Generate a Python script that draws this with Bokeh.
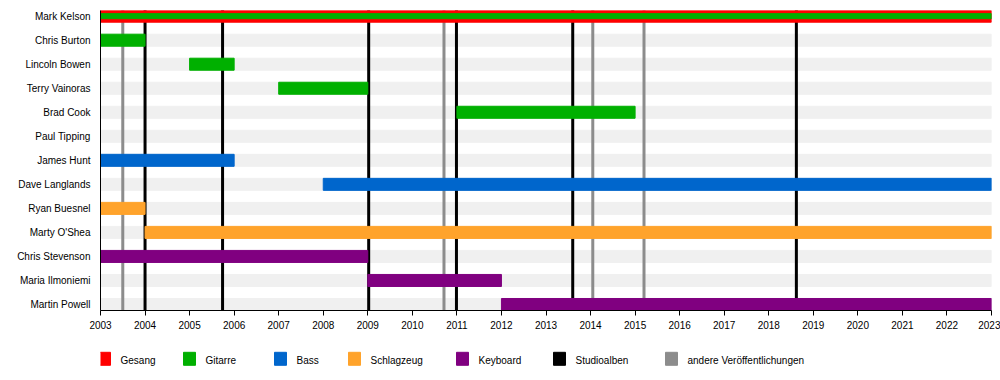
from bokeh.plotting import figure
from bokeh.models import Range1d, FixedTicker, ColumnDataSource
from bokeh.layouts import column
from bokeh.embed import file_html
from bokeh.resources import INLINE
from bokeh.core.properties import value

# ---------------- data ----------------
members = ["Mark Kelson", "Chris Burton", "Lincoln Bowen", "Terry Vainoras",
           "Brad Cook", "Paul Tipping", "James Hunt", "Dave Langlands",
           "Ryan Buesnel", "Marty O'Shea", "Chris Stevenson",
           "Maria Ilmoniemi", "Martin Powell"]

bar_member = ["Chris Burton", "Lincoln Bowen", "Terry Vainoras", "Brad Cook",
              "James Hunt", "Dave Langlands", "Ryan Buesnel", "Marty O'Shea",
              "Chris Stevenson", "Maria Ilmoniemi", "Martin Powell"]
bar_start = [2003, 2005, 2007, 2011, 2003, 2008, 2003, 2004, 2003, 2009, 2012]
bar_end = [2004, 2006, 2009, 2015, 2006, 2023, 2004, 2023, 2009, 2012, 2023]
bar_role = ["Gitarre", "Gitarre", "Gitarre", "Gitarre", "Bass", "Bass",
            "Schlagzeug", "Schlagzeug", "Keyboard", "Keyboard", "Keyboard"]

lead_member = "Mark Kelson"
lead_start = 2003
lead_end = 2023
lead_roles = ["Gesang", "Gitarre"]

studio_albums = [2004.0, 2005.74, 2009.02, 2010.99, 2013.60, 2018.62]
other_releases = [2003.5, 2010.71, 2014.05, 2015.20]

years = list(range(2003, 2024))

roles = ["Gesang", "Gitarre", "Bass", "Schlagzeug", "Keyboard",
         "Studioalben", "andere Veröffentlichungen"]
role_colors = ["#ff0000", "#00b000", "#0066cc", "#ffa32b", "#800080",
               "#000000", "#8c8c8c"]
color_of = dict(zip(roles, role_colors))

FONT = "Liberation Sans"
W = 1000
LEFT = 100
RIGHT = 9

# ---------------- main chart ----------------
idx = {m: i for i, m in enumerate(members)}

p = figure(width=W, height=340,
           x_range=Range1d(years[0], years[-1]),
           y_range=Range1d(12.25, -0.236),
           output_backend="svg", toolbar_location=None,
           min_border_left=LEFT, min_border_right=RIGHT,
           min_border_top=10, min_border_bottom=30)
p.outline_line_color = None
p.xgrid.visible = False
p.ygrid.visible = False
p.background_fill_color = "white"
p.border_fill_color = "white"

# row strips
p.hbar(y=list(range(len(members))), left=years[0], right=years[-1],
       height=0.5, color="#f0f0f0")

# release lines
p.segment(x0=other_releases, y0=-1, x1=other_releases, y1=13,
          line_color=color_of["andere Veröffentlichungen"], line_width=3)
p.segment(x0=studio_albums, y0=-1, x1=studio_albums, y1=13,
          line_color=color_of["Studioalben"], line_width=3)

# member bars
src = ColumnDataSource(dict(
    y=[idx[m] for m in bar_member],
    left=bar_start, right=bar_end,
    color=[color_of[r] for r in bar_role]))
p.hbar(y="y", left="left", right="right", height=0.5, color="color", source=src)

# lead singer (vocals + guitar)
p.hbar(y=[idx[lead_member]], left=lead_start, right=lead_end, height=0.5,
       color=color_of[lead_roles[0]])
p.hbar(y=[idx[lead_member]], left=lead_start, right=lead_end, height=0.21,
       color=color_of[lead_roles[1]])

# axes
p.xaxis.ticker = FixedTicker(ticks=years)
p.xaxis.minor_tick_line_color = None
p.xaxis.major_tick_out = 5
p.xaxis.major_tick_in = 0
p.xaxis.major_label_standoff = 5
p.xaxis.major_label_text_font = FONT
p.xaxis.major_label_text_font_size = "10px"
p.xaxis.major_label_text_color = "black"
p.xaxis.axis_line_color = "black"
p.xaxis.major_tick_line_color = "black"

p.yaxis.ticker = FixedTicker(ticks=list(range(len(members))))
p.yaxis.major_label_overrides = {i: m for i, m in enumerate(members)}
p.yaxis.minor_tick_line_color = None
p.yaxis.major_tick_line_color = None
p.yaxis.major_tick_out = 0
p.yaxis.major_tick_in = 0
p.yaxis.major_label_standoff = 10
p.yaxis.major_label_text_font = FONT
p.yaxis.major_label_text_font_size = "10px"
p.yaxis.major_label_text_color = "black"
p.yaxis.axis_line_color = "black"

# ---------------- legend strip (page-pixel coordinates) ----------------
LH = 38
lg = figure(width=W, height=LH, x_range=Range1d(LEFT, W - RIGHT),
            y_range=Range1d(LH, 0),
            output_backend="svg", toolbar_location=None,
            min_border_left=LEFT, min_border_right=RIGHT,
            min_border_top=0, min_border_bottom=0,
            x_axis_type=None, y_axis_type=None)
lg.outline_line_color = None
lg.xgrid.visible = False
lg.ygrid.visible = False

swatch_left = [98, 183, 274, 348, 456, 553, 665]
lg.rect(x=[s + 6 for s in swatch_left], y=18.3, width=12, height=13,
        color=role_colors)
lg.text(x=[s + 22 for s in swatch_left], y=[20] * len(roles), text=roles,
        text_font=value(FONT), text_font_size="10px",
        text_baseline="middle", text_align="left", text_color="black")

layout = column(p, lg, spacing=0)
open("out.html", "w").write(file_html(layout, INLINE, title="Timeline"))
